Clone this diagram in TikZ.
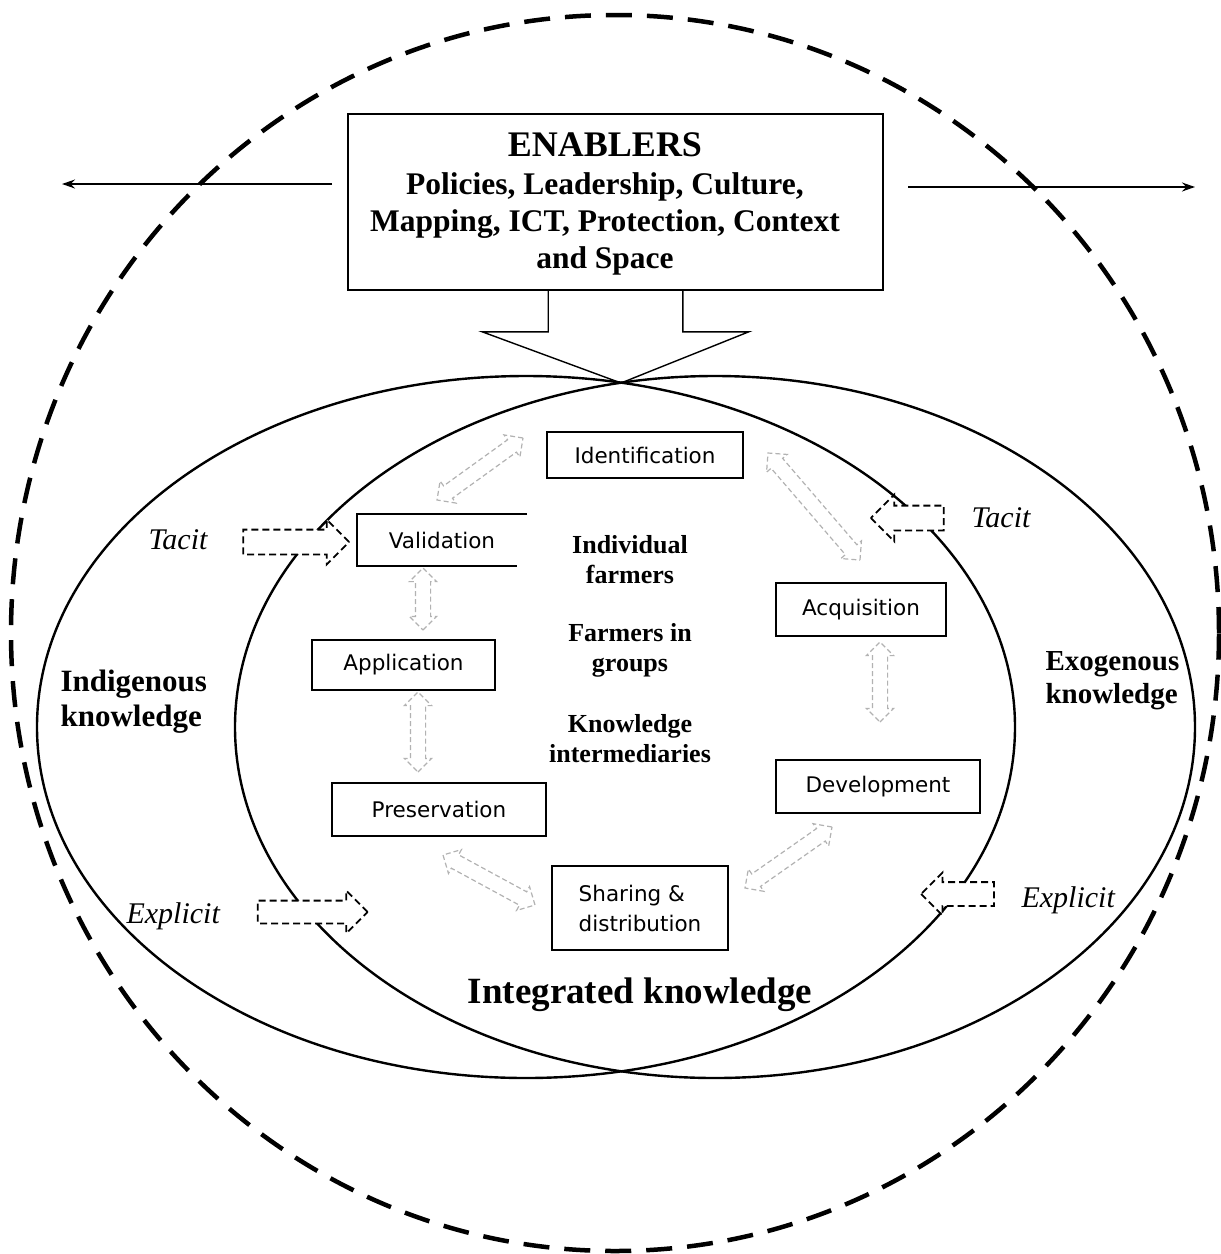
\documentclass[tikz,border=0pt]{standalone}
\usepackage{fontspec}
\setmainfont{Liberation Serif}
\newfontfamily\boxfont{DejaVu Sans}
\usetikzlibrary{shapes.arrows,arrows.meta,calc}

% two-headed dashed link drawn between two named points
\newcommand\cyclelink[2]{%
  \path let \p1=($(#2)-(#1)$), \n1={veclen(\x1,\y1)} in
    (#1) -- (#2) node[cyclearrow, midway, sloped, minimum height=\n1] {};}

\begin{document}
\begin{tikzpicture}[x=1pt,y=-1pt,
  stagebox/.style={draw, line width=1.6pt, fill=white, inner sep=0pt,
    font=\boxfont\fontsize{21.5}{30}\selectfont, align=center},
  midlabel/.style={font=\bfseries\fontsize{26}{30}\selectfont, align=center},
  flowlabel/.style={font=\itshape\fontsize{30}{34}\selectfont, anchor=west},
  inflow/.style={single arrow, draw, dash pattern=on 7pt off 4pt,
    line width=1.8pt, fill=white, inner xsep=0pt, inner ysep=11.5pt,
    single arrow head extend=10pt},
  cyclearrow/.style={double arrow, draw=black!30, dash pattern=on 5pt off 3pt,
    line width=1.2pt, inner xsep=0pt, inner ysep=7pt,
    double arrow head extend=6pt},
  ring/.style={line width=2.4pt},
  thinline/.style={line width=1.4pt},
]
\useasboundingbox (0,0) rectangle (1221,1254);

% outer dashed boundary
\draw[line width=4.5pt, dash pattern=on 26pt off 15pt]
  (615,633) ellipse [x radius=604pt, y radius=618pt];

% indigenous and exogenous knowledge domains
\draw[ring] (526,727) ellipse [x radius=489pt, y radius=351pt];
\draw[ring] (715,727) ellipse [x radius=480pt, y radius=351pt];
\coordinate (ktop) at (621,383);

% enablers callout
\node[draw, line width=1.6pt, fill=white, inner sep=0pt,
  minimum width=535pt, minimum height=176pt] (enablers) at (615.5,202) {};
\node[align=center, font=\bfseries\fontsize{31.5}{37}\selectfont] (enablerstext) at (605,204)
  {{\fontsize{36}{39}\selectfont ENABLERS}\\[1pt]
   Policies, Leadership, Culture,\\
   Mapping, ICT, Protection, Context\\
   and Space};
\draw[thinline] ([xshift=201pt]enablers.south west) |- ++(-66pt,-41pt) -- (ktop);
\draw[thinline] ([xshift=-201pt]enablers.south east) |- ++(66pt,-41pt) -- (ktop);

% spreading arrows
\coordinate (leftstart) at (332,184);
\coordinate (leftend) at (62,184);
\coordinate (rightstart) at (908,187);
\coordinate (rightend) at (1195,187);
\draw[thinline, -{Stealth[length=13pt,width=9pt]}] (leftstart) -- (leftend);
\draw[thinline, -{Stealth[length=13pt,width=9pt]}] (rightstart) -- (rightend);

% knowledge management stages
\node[stagebox, minimum width=196pt, minimum height=46pt] (ident) at (645,455) {Identification};
\node[inner sep=0pt, minimum width=170pt, minimum height=52pt,
  font=\boxfont\fontsize{21.5}{30}\selectfont] (valid) at (442,540) {Validation};
\draw[line width=1.6pt] (valid.north east) -- (valid.north west) -- (valid.south west)
  -- ([xshift=-10pt]valid.south east);
\node[stagebox, minimum width=183pt, minimum height=50pt] (applic) at (403.5,665) {Application};
\node[stagebox, minimum width=214pt, minimum height=53pt] (preserv) at (439,809.5) {Preservation};
\node[stagebox, minimum width=176pt, minimum height=84pt, align=left] (sharing) at (640,908)
  {Sharing \&\\distribution};
\node[stagebox, minimum width=204pt, minimum height=53pt] (devel) at (878,786.5) {Development};
\node[stagebox, minimum width=170pt, minimum height=53pt] (acquis) at (861,609.5) {Acquisition};

% actors in the centre
\node[midlabel] (indiv) at (630,560) {Individual\\farmers};
\node[midlabel] (groups) at (630,650) {Farmers in\\groups};
\node[midlabel] (interm) at (630,739) {Knowledge\\intermediaries};

% domain labels
\node[anchor=west, align=left, font=\bfseries\fontsize{31}{35}\selectfont] (indig) at (57,702)
  {Indigenous\\knowledge};
\node[anchor=west, align=left, font=\bfseries\fontsize{29}{33}\selectfont] (exog) at (1042,681)
  {Exogenous\\knowledge};
\node[font=\bfseries\fontsize{37}{40}\selectfont] (integ) at (640,995) {Integrated knowledge};

% tacit and explicit inflows
\node[flowlabel] (tacitLtext) at (145,540) {Tacit};
\node[flowlabel] (explLtext) at (123,916) {Explicit};
\node[flowlabel] (tacitRtext) at (968,518) {Tacit};
\node[flowlabel] (explRtext) at (1018,900) {Explicit};
\node[inflow, minimum height=106pt] (tacitL) at (290,542) {};
\node[inflow, minimum height=110pt, inner ysep=10.5pt] (explL) at (307,912) {};
\node[inflow, minimum height=73pt, single arrow head extend=11pt,
  rotate=180] (tacitR) at (913.5,518) {};
\node[inflow, minimum height=73pt, inner ysep=11pt, single arrow head extend=9.5pt,
  rotate=180] (explR) at (963.5,894) {};

% cycle links between stages
\coordinate (l1a) at (437,500);  \coordinate (l1b) at (523,438);
\coordinate (l2a) at (768,453);  \coordinate (l2b) at (860,560);
\coordinate (l3a) at (423,568);  \coordinate (l3b) at (423,630);
\coordinate (l4a) at (418,692);  \coordinate (l4b) at (418,772);
\coordinate (l5a) at (880,642);  \coordinate (l5b) at (880,722);
\coordinate (l6a) at (443,855);  \coordinate (l6b) at (535,905);
\coordinate (l7a) at (745,888);  \coordinate (l7b) at (832,827);
\cyclelink{l1a}{l1b}
\cyclelink{l2a}{l2b}
\cyclelink{l3a}{l3b}
\cyclelink{l4a}{l4b}
\cyclelink{l5a}{l5b}
\cyclelink{l6a}{l6b}
\cyclelink{l7a}{l7b}
\end{tikzpicture}
\end{document}
